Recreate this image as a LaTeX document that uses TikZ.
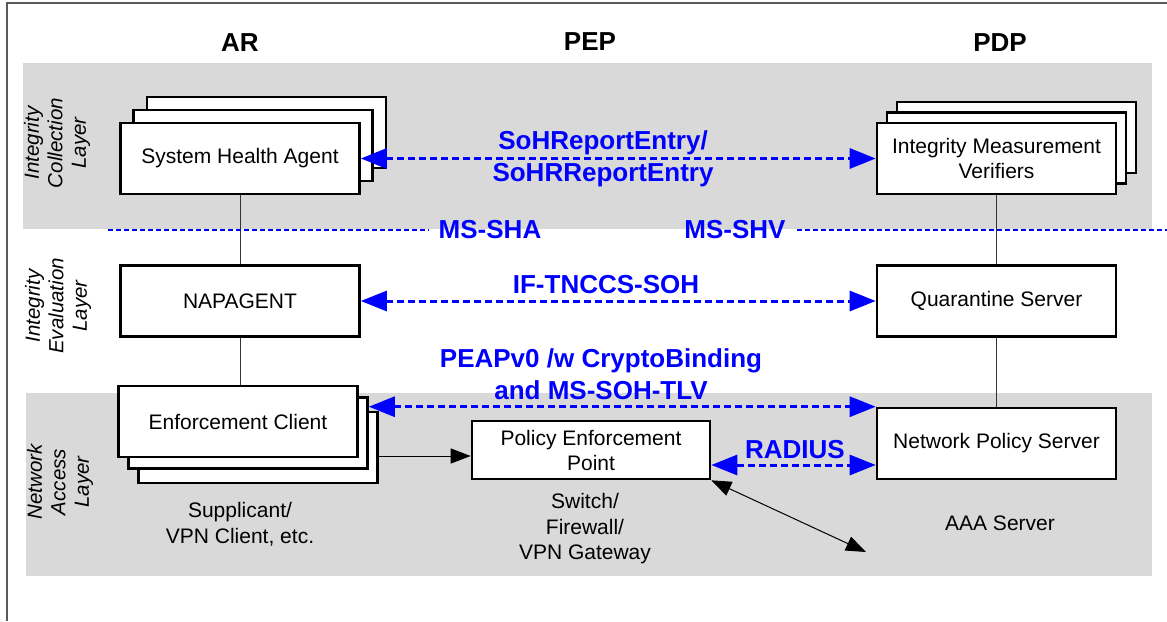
\documentclass[tikz,border=0pt]{standalone}
\usepackage{fontspec}
\setmainfont{Liberation Sans}
\usetikzlibrary{arrows.meta,calc}
\definecolor{band}{RGB}{217,217,217}
\definecolor{iface}{RGB}{0,0,255}
\definecolor{framec}{RGB}{90,90,90}

\begin{document}
\begin{tikzpicture}[x=1pt,y=-1pt,
  box/.style={draw=black, line width=2.6pt, fill=white, minimum width=239pt,
    minimum height=71pt, inner sep=0pt, align=center,
    font=\fontsize{21}{25}\selectfont},
  head/.style={font=\fontsize{26}{31}\selectfont\bfseries, inner sep=0pt},
  layer/.style={rotate=90, align=center, inner sep=0pt,
    font=\fontsize{20.5}{23.5}\selectfont\itshape},
  note/.style={align=center, inner sep=0pt, font=\fontsize{21}{25.5}\selectfont},
  ilabel/.style={text=iface, align=center, inner sep=0pt,
    font=\fontsize{26}{32}\selectfont\bfseries},
  iarrow/.style={draw=iface, line width=3pt, dash pattern=on 7pt off 4pt,
    {Triangle[length=26pt,width=20pt]}-{Triangle[length=26pt,width=20pt]}},
  sepline/.style={draw=iface, line width=2.3pt, dash pattern=on 5pt off 3pt},
  conn/.style={draw=black!80, line width=0.9pt},
  barrow/.style={draw=black, line width=1pt, -{Triangle[length=20pt,width=15pt]}},
  bbarrow/.style={draw=black, line width=1pt,
    {Triangle[length=20pt,width=15pt]}-{Triangle[length=20pt,width=15pt]}}
]
\useasboundingbox (0,0) rectangle (1167,621);

% layer bands
\fill[band] (23,63) rectangle (1152,229);
\fill[band] (26,393) rectangle (1152,576);

% outer frame
\draw[framec, line width=1.3pt] (7,621) -- (7,3) -- (1167,3);

% column headings
\node[head] (hAR)  at (240,43) {AR};
\node[head] (hPEP) at (590,42) {PEP};
\node[head] (hPDP) at (1000,43) {PDP};

% layer names
\node[layer] (lcol) at (57,143) {Integrity\\Collection\\Layer};
\node[layer] (leva) at (58,306) {Integrity\\Evaluation\\Layer};
\node[layer] (lnet) at (60,482) {Network\\Access\\Layer};

% AR column
\node[box] (sha3) at (266.5,132.5) {};
\node[box] (sha2) at (253,145.5) {};
\node[box] (sha)  at (240,158.5) {System Health Agent};
\node[box] (nap)  at (240,301) {NAPAGENT};
\node[box] (ec3)  at (258,447.5) {};
\node[box] (ec2)  at (248,433.2) {};
\node[box] (ec)   at (238,421.5) {Enforcement Client};

% PEP column
\node[box, minimum width=238pt, minimum height=58pt] (pep) at (591,450)
  {Policy Enforcement\\Point};

% PDP column
\node[box] (imv3) at (1016.5,137.5) {};
\node[box] (imv2) at (1006.5,148) {};
\node[box] (imv)  at (996.5,158.5) {Integrity Measurement\\Verifiers};
\node[box] (qs)   at (996.5,301) {Quarantine Server};
\node[box] (nps)  at (996.5,443.5) {Network Policy Server};

% vertical links between layers
\draw[conn] (sha.south) -- (nap.north);
\draw[conn] (nap.south) -- (nap.south |- ec.north);
\draw[conn] (imv.south) -- (qs.north);
\draw[conn] (qs.south) -- (nps.north);

% interface boundary
\coordinate (sepL) at (108,230);
\coordinate (sepR) at (1167,230);
\node[ilabel] (msha) at (490,230) {MS-SHA};
\node[ilabel] (mshv) at (735,230) {MS-SHV};
\draw[sepline] (sepL) -- ([xshift=-10pt]msha.west);
\draw[sepline] ([xshift=11pt]mshv.east) -- (sepR);

% protocol exchanges
\draw[iarrow] (sha.east) -- (imv.west);
\node[ilabel] (lsoh) at (603,159) {SoHReportEntry/\\SoHRReportEntry};

\draw[iarrow] (nap.east) -- (qs.west);
\node[ilabel] (ltnc) at (606,285) {IF-TNCCS-SOH};

\draw[iarrow] (ec2.east |- nps.north west) -- (nps.north west);
\node[ilabel] (lpeap) at (601,374) {PEAPv0 /w CryptoBinding\\and MS-SOH-TLV};

\coordinate (pepR) at ([yshift=-15pt]pep.east);
\draw[iarrow] (pepR) -- (nps.west |- pepR);
\node[ilabel] (lrad) at (795,450) {RADIUS};

% network access links
\coordinate (pepL) at ([yshift=-6pt]pep.west);
\draw[barrow] (ec3.east |- pepL) -- (pepL);
\coordinate (aaaEnd) at (866,552);
\draw[bbarrow] (pep.south east) -- (aaaEnd);

% component descriptions
\node[note] (dsup) at (240,524) {Supplicant/\\VPN Client, etc.};
\node[note] (dsw)  at (585,529) {Switch/\\Firewall/\\VPN Gateway};
\node[note] (daaa) at (1000,523) {AAA Server};
\end{tikzpicture}
\end{document}
